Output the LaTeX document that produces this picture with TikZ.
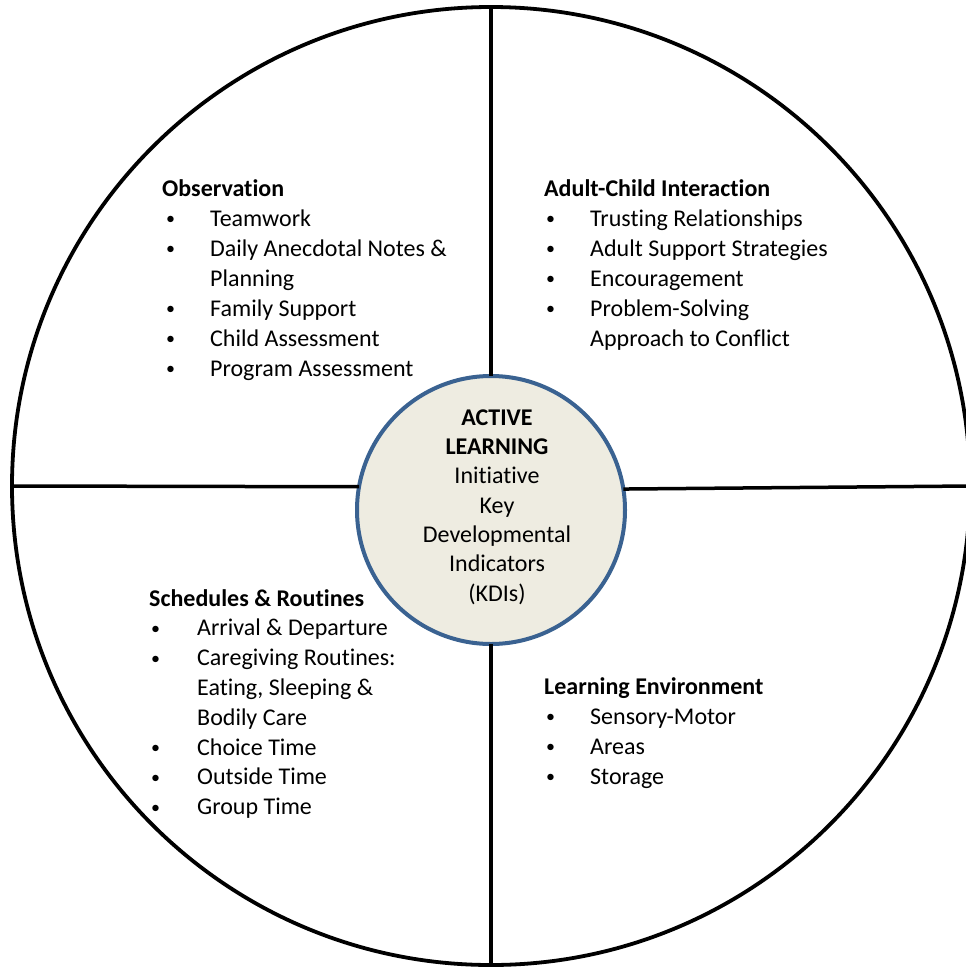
\documentclass[tikz,border=0pt]{standalone}
\usepackage{fontspec}
\setmainfont{Carlito}[Ligatures=NoCommon]
\usepackage{xcolor}
\usepackage{tikz}

\definecolor{coreedge}{HTML}{3A6291}
\definecolor{corefill}{HTML}{EEECE1}

\begin{document}
\begin{tikzpicture}[
  x=1pt, y=-1pt,
  font=\fontsize{24}{30}\selectfont,
  rim/.style={circle, draw, line width=3.8pt, outer sep=0pt, inner sep=0pt},
  divider/.style={draw, line width=3.5pt},
  heading/.style={anchor=base west, inner sep=0pt, font=\fontsize{24}{30}\selectfont\bfseries},
  item/.style={anchor=base west, inner sep=0pt},
  dot/.style={anchor=base west, inner sep=0pt, font=\fontsize{18}{30}\selectfont, yshift=1.5pt}
  ]
\useasboundingbox (0,0) rectangle (966,967);

% Outer wheel and centre disc
\node[rim, minimum size=958pt] (wheel) at (491,486) {};
\node[rim, draw=coreedge, fill=corefill, line width=4pt, minimum size=268pt] (core) at (491,510) {};

% Dividers
\draw[divider] (wheel.north) -- (core.north);
\draw[divider] (core.south) -- (wheel.south);
\draw[divider] (wheel.west) -- (core.170.5);
\draw[divider] (core.9.5) -- (wheel.east);

% Centre text
\node[align=center, inner sep=0pt, font=\fontsize{24}{29.3}\selectfont] (hub) at (497,507)
  {\textbf{ACTIVE}\\ \textbf{LEARNING}\\ Initiative\\ Key\\ Developmental\\ Indicators\\ (KDIs)};

% Observation
\node[heading] (obs) at (162,196) {Observation};
\foreach \b/\t [count=\i] in {\textbullet/Teamwork, \textbullet/{Daily Anecdotal Notes \&}, /Planning,
    \textbullet/Family Support, \textbullet/Child Assessment, \textbullet/Program Assessment} {
  \node[dot] (obs-b\i) at (166,196+30*\i) {\b};
  \node[item] (obs-\i) at (210,196+30*\i) {\t};
}

% Adult-Child Interaction
\node[heading] (aci) at (544,196) {Adult-Child Interaction};
\foreach \b/\t [count=\i] in {\textbullet/Trusting Relationships, \textbullet/Adult Support Strategies,
    \textbullet/Encouragement, \textbullet/Problem-Solving, /Approach to Conflict} {
  \node[dot] (aci-b\i) at (546,196+30*\i) {\b};
  \node[item] (aci-\i) at (590,196+30*\i) {\t};
}

% Schedules & Routines
\node[heading] (sch) at (149,606) {Schedules \& Routines};
\foreach \b/\t [count=\i] in {\textbullet/Arrival \& Departure, \textbullet/Caregiving Routines:,
    /{Eating, Sleeping \&}, /Bodily Care, \textbullet/Choice Time, \textbullet/Outside Time,
    \textbullet/Group Time} {
  \node[dot] (sch-b\i) at (151,606+29.8*\i) {\b};
  \node[item] (sch-\i) at (197,606+29.8*\i) {\t};
}

% Learning Environment
\node[heading] (env) at (544,694) {Learning Environment};
\foreach \b/\t [count=\i] in {\textbullet/Sensory-Motor, \textbullet/Areas, \textbullet/Storage} {
  \node[dot] (env-b\i) at (546,694+30*\i) {\b};
  \node[item] (env-\i) at (590,694+30*\i) {\t};
}

\end{tikzpicture}
\end{document}
